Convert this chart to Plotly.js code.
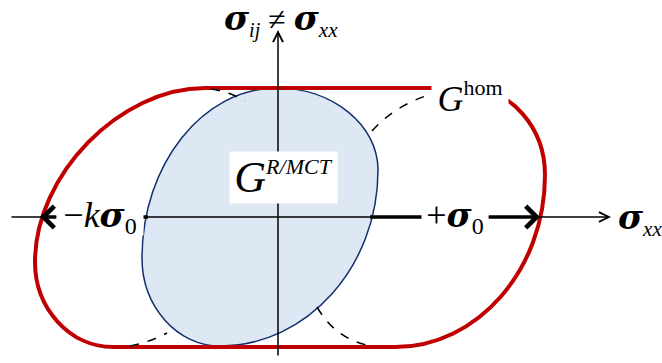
<!DOCTYPE html>
<html>
<head>
<meta charset="utf-8">
<script src="https://cdn.plot.ly/plotly-3.0.1.min.js"></script>
<style>
  html, body { margin: 0; padding: 0; background: #fff; }
  #chart { width: 662px; height: 363px; }
</style>
</head>
<body>
<div id="chart"></div>
<script>
// Anchor points of the schematic (pixel-like plot units, y grows downwards)
// Blue G^R/MCT region: top, right, bottom, left tangent points
const blueX = [277, 378, 220, 142];
const blueY = [88, 170, 346, 258];

// Red G^hom boundary: straight caps and the two side arcs
const redTopX = [205, 468];
const redTopY = [88, 88];
const redBottomX = [395, 113];
const redBottomY = [347, 347];
const redRightArcX = [468, 545, 395];
const redRightArcY = [88, 175, 347];
const redLeftArcX = [113, 35, 205];
const redLeftArcY = [347, 262, 88];

// Dashed links between the blue region and the red caps: start, control, end
const dashX = [[211, 230, 245], [372, 395, 432], [130, 150, 167], [317, 335, 367]];
const dashY = [[89, 92, 101], [131, 105, 94], [346, 342, 333], [307, 338, 345]];

// Axes
const axisX = [10, 611];
const axisY = 217;
const vAxisX = 278;
const vAxisY = [357, 30];

// Load arrows and thick stubs along sigma_xx
const plusArrowX = [487, 540];
const minusArrowX = [58, 40];
const thickStubsX = [[370, 422], [142, 148]];

const KAPPA = 0.55;

// One cubic quarter between two tangent points, leaving p0 horizontally or vertically
function quarter(x0, y0, x3, y3, horizontalStart, k) {
  let c1, c2;
  if (horizontalStart) {
    c1 = [x0 + k * (x3 - x0), y0];
    c2 = [x3, y3 - k * (y3 - y0)];
  } else {
    c1 = [x0, y0 + k * (y3 - y0)];
    c2 = [x3 - k * (x3 - x0), y3];
  }
  return ` C${c1[0]},${c1[1]} ${c2[0]},${c2[1]} ${x3},${y3}`;
}

// Blue region path
let bluePath = `M${blueX[0]},${blueY[0]}`;
for (let i = 0; i < 4; i++) {
  const j = (i + 1) % 4;
  bluePath += quarter(blueX[i], blueY[i], blueX[j], blueY[j], i % 2 === 0, KAPPA);
}
bluePath += ' Z';

// Red boundary path
let redPath = `M${redTopX[0]},${redTopY[0]} L${redTopX[1]},${redTopY[1]}`;
redPath += quarter(redRightArcX[0], redRightArcY[0], redRightArcX[1], redRightArcY[1], true, KAPPA);
redPath += quarter(redRightArcX[1], redRightArcY[1], redRightArcX[2], redRightArcY[2], false, KAPPA);
redPath += ` L${redBottomX[1]},${redBottomY[1]}`;
redPath += quarter(redLeftArcX[0], redLeftArcY[0], redLeftArcX[1], redLeftArcY[1], true, KAPPA);
redPath += quarter(redLeftArcX[1], redLeftArcY[1], redLeftArcX[2], redLeftArcY[2], false, 0.5);
redPath += ' Z';

const shapes = [
  {
    type: 'path', path: bluePath, xref: 'x', yref: 'y',
    fillcolor: '#dde8f4', line: { color: '#10306c', width: 1.5 }
  },
  {
    type: 'path', path: redPath, xref: 'x', yref: 'y',
    fillcolor: 'rgba(0,0,0,0)', line: { color: '#c00000', width: 4 }
  }
];

dashX.forEach((xs, i) => {
  const ys = dashY[i];
  shapes.push({
    type: 'path', xref: 'x', yref: 'y',
    path: `M${xs[0]},${ys[0]} Q${xs[1]},${ys[1]} ${xs[2]},${ys[2]}`,
    line: { color: '#000', width: 1.5, dash: 'dash' }
  });
});

thickStubsX.forEach(xs => {
  shapes.push({
    type: 'line', xref: 'x', yref: 'y',
    x0: xs[0], x1: xs[1], y0: axisY, y1: axisY,
    line: { color: '#000', width: 3.5 }
  });
});

const serif = 'Liberation Serif';

// Greek sigma in a heavy italic face, like the Symbol glyph of the original
function sig(size) {
  return `<span style="font-family:'DejaVu Serif';font-weight:bold;font-style:italic;font-size:${size}px">σ</span>`;
}
function small(text, size, italic) {
  return `<span style="font-size:${size}px;${italic ? 'font-style:italic;' : ''}">${text}</span>`;
}

function arrow(x0, y0, x1, y1, width, head, size) {
  return {
    x: x1, y: y1, ax: x0, ay: y0, xref: 'x', yref: 'y', axref: 'x', ayref: 'y',
    text: '', showarrow: true, arrowhead: head, arrowsize: size,
    arrowwidth: width, arrowcolor: '#000', standoff: 0, startstandoff: 0
  };
}

function label(text, x, y, size, opts) {
  return Object.assign({
    x: x, y: y, xref: 'x', yref: 'y', text: text, showarrow: false,
    font: { family: serif, size: size, color: '#000' }
  }, opts || {});
}

const annotations = [
  arrow(axisX[0], axisY, axisX[1], axisY, 1.5, 5, 1.3),
  arrow(vAxisX, vAxisY[0], vAxisX, vAxisY[1], 1.5, 5, 1.3),
  arrow(plusArrowX[0], axisY, plusArrowX[1], axisY, 3.5, 4, 1.2),
  arrow(minusArrowX[0], axisY, minusArrowX[1], axisY, 3.5, 4, 1.2),

  label(sig(34) + '<sub>' + small('ij', 20, true) + '</sub> ≠ ' + sig(34) +
        '<sub>' + small('xx', 21, true) + '</sub>', 281, 20, 32),
  label('<i>G</i><sup>' + small('R/MCT', 22, true) + '</sup>', 283.5, 177.5, 44,
        { bgcolor: '#fff', width: 105, height: 49 }),
  label('<i>G</i><sup>' + small('hom', 22, false) + '</sup>', 470, 97, 36,
        { bgcolor: '#fff', width: 74, height: 36 }),
  label('−<i>k</i>' + sig(34) + '<sub>' + small('0', 24, false) + '</sub>', 100, 217, 36,
        { bgcolor: '#fff', width: 84, height: 34 }),
  label('+' + sig(34) + '<sub>' + small('0', 24, false) + '</sub>', 454.5, 217, 36,
        { bgcolor: '#fff', width: 64, height: 34 }),
  label(sig(34) + '<sub>' + small('xx', 21, true) + '</sub>', 640, 219, 32)
];

const layout = {
  width: 662,
  height: 363,
  margin: { t: 0, l: 0, r: 0, b: 0 },
  showlegend: false,
  plot_bgcolor: '#fff',
  paper_bgcolor: '#fff',
  xaxis: { range: [0, 662], visible: false, fixedrange: true },
  yaxis: { range: [363, 0], visible: false, fixedrange: true },
  shapes: shapes,
  annotations: annotations
};

Plotly.newPlot('chart', [], layout, { displayModeBar: false, staticPlot: true });
</script>
</body>
</html>
